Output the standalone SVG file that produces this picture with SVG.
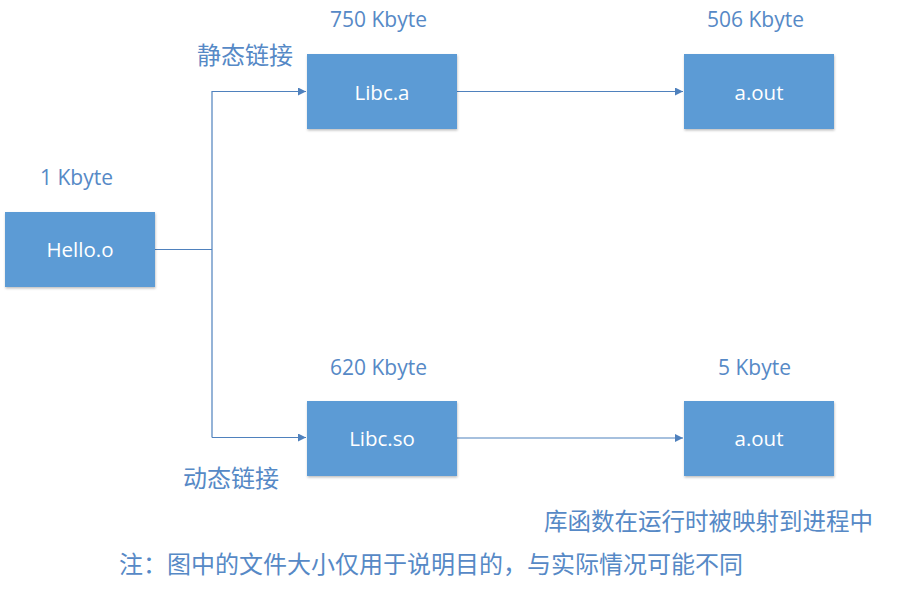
<svg xmlns="http://www.w3.org/2000/svg" width="911" height="605" viewBox="0 0 911 605">
<style>
.box{fill:#5B9BD5;filter:url(#sh)}
.bt{font-family:"Open Sans","Liberation Sans",sans-serif;font-size:20.5px;fill:#FFFFFF;text-anchor:middle}
.lbl{font-family:"Open Sans","Liberation Sans",sans-serif;font-size:21px;fill:#5689C6}
.cn{font-family:"Noto Sans CJK SC",sans-serif;font-size:24px;fill:#5689C6}
.ln{fill:none;stroke:#4F81BD;stroke-width:1.2}
</style>
<defs>
<filter id="sh" x="-10%" y="-10%" width="120%" height="130%">
<feDropShadow dx="0.5" dy="1.5" stdDeviation="1" flood-color="#000" flood-opacity="0.25"/>
</filter>
<marker id="ah" viewBox="0 0 10 10" refX="10" refY="5" markerWidth="10" markerHeight="8" markerUnits="userSpaceOnUse" orient="auto">
<path d="M0,0 L10,5 L0,10 Z" fill="#4F81BD"/>
</marker>
</defs>
<g id="connectors">
<path class="ln" d="M155,249.5 H212"/>
<path class="ln" d="M212,437.5 V91.5 H306" marker-end="url(#ah)"/>
<path class="ln" d="M212,437.5 H306" marker-end="url(#ah)"/>
<path class="ln" d="M457,91.5 H683" marker-end="url(#ah)"/>
<path class="ln" d="M457,438 H683" marker-end="url(#ah)"/>
</g>
<g id="hello">
<rect class="box" x="5" y="212" width="150" height="75"/>
<text class="bt" x="80" y="257">Hello.o</text>
<text class="lbl" x="40" y="185">1 Kbyte</text>
</g>
<g id="libca">
<rect class="box" x="307" y="54" width="150" height="75"/>
<text class="bt" x="382" y="99.5">Libc.a</text>
<text class="lbl" x="330" y="27">750 Kbyte</text>
</g>
<g id="aout1">
<rect class="box" x="684" y="54" width="150" height="75"/>
<text class="bt" x="759" y="99.5">a.out</text>
<text class="lbl" x="707" y="27">506 Kbyte</text>
</g>
<g id="libcso">
<rect class="box" x="307" y="401" width="150" height="75"/>
<text class="bt" x="382" y="445.5">Libc.so</text>
<text class="lbl" x="330" y="375">620 Kbyte</text>
</g>
<g id="aout2">
<rect class="box" x="684" y="401" width="150" height="75"/>
<text class="bt" x="759" y="445.5">a.out</text>
<text class="lbl" x="718" y="375">5 Kbyte</text>
</g>
<g id="labels">
<text class="cn" x="197" y="64">静态链接</text>
<text class="cn" x="183" y="487">动态链接</text>
<text class="cn" x="544" y="530" style="font-size:23.5px">库函数在运行时被映射到进程中</text>
<text class="cn" x="119" y="573">注：图中的文件大小仅用于说明目的，与实际情况可能不同</text>
</g>
</svg>
